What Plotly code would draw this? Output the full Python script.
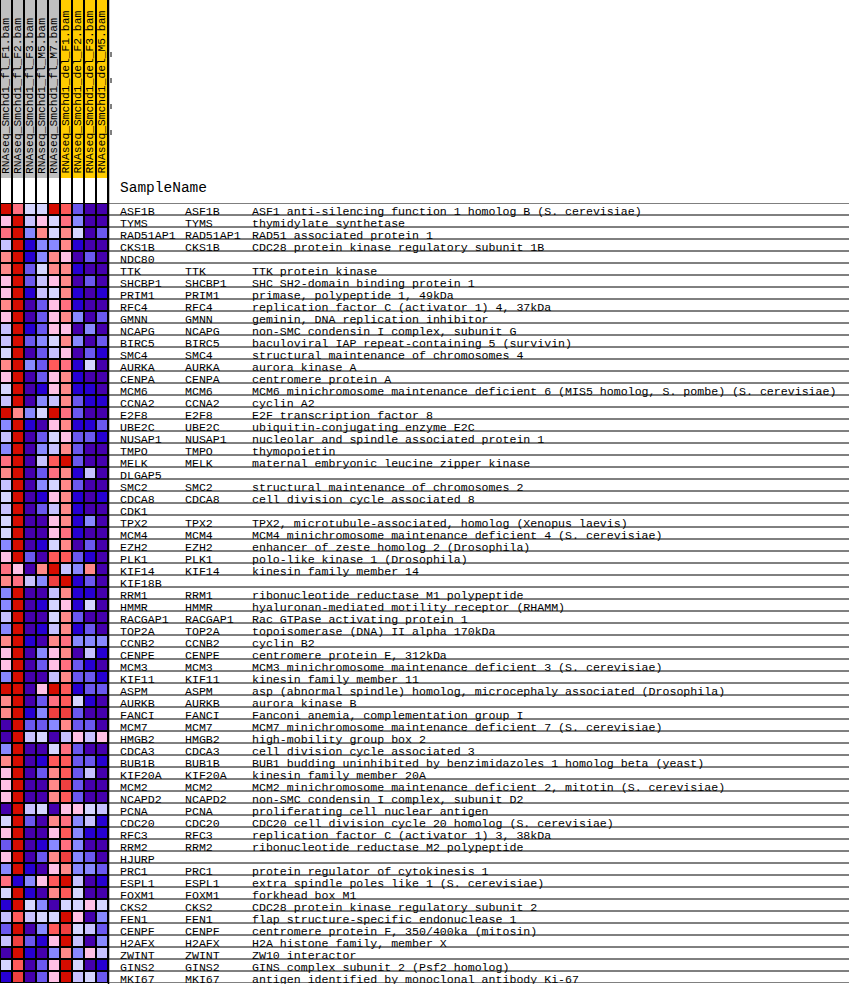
import plotly.graph_objects as go

W, H = 849, 984

samples = ["RNAseq_Smchd1_fl_F1.bam", "RNAseq_Smchd1_fl_F2.bam", "RNAseq_Smchd1_fl_F3.bam",
           "RNAseq_Smchd1_fl_M5.bam", "RNAseq_Smchd1_fl_M7.bam", "RNAseq_Smchd1_del_F1.bam",
           "RNAseq_Smchd1_del_F2.bam", "RNAseq_Smchd1_del_F3.bam", "RNAseq_Smchd1_del_M5.bam"]
sample_group = [0, 0, 0, 0, 0, 1, 1, 1, 1]
group_colors = ["#C0C0C0", "#FFCC00", "#FFFFFF"]

genes = ["ASF1B", "TYMS", "RAD51AP1", "CKS1B", "NDC80", "TTK", "SHCBP1", "PRIM1", "RFC4", "GMNN",
         "NCAPG", "BIRC5", "SMC4", "AURKA", "CENPA", "MCM6", "CCNA2", "E2F8", "UBE2C", "NUSAP1",
         "TMPO", "MELK", "DLGAP5", "SMC2", "CDCA8", "CDK1", "TPX2", "MCM4", "EZH2", "PLK1",
         "KIF14", "KIF18B", "RRM1", "HMMR", "RACGAP1", "TOP2A", "CCNB2", "CENPE", "MCM3", "KIF11",
         "ASPM", "AURKB", "FANCI", "MCM7", "HMGB2", "CDCA3", "BUB1B", "KIF20A", "MCM2", "NCAPD2",
         "PCNA", "CDC20", "RFC3", "RRM2", "HJURP", "PRC1", "ESPL1", "FOXM1", "CKS2", "FEN1",
         "CENPF", "H2AFX", "ZWINT", "GINS2", "MKI67"]

symbols = [g if g not in ("NDC80", "DLGAP5", "CDK1", "KIF18B", "HJURP") else "" for g in genes]

descriptions = [
    "ASF1 anti-silencing function 1 homolog B (S. cerevisiae)",
    "thymidylate synthetase",
    "RAD51 associated protein 1",
    "CDC28 protein kinase regulatory subunit 1B",
    "",
    "TTK protein kinase",
    "SHC SH2-domain binding protein 1",
    "primase, polypeptide 1, 49kDa",
    "replication factor C (activator 1) 4, 37kDa",
    "geminin, DNA replication inhibitor",
    "non-SMC condensin I complex, subunit G",
    "baculoviral IAP repeat-containing 5 (survivin)",
    "structural maintenance of chromosomes 4",
    "aurora kinase A",
    "centromere protein A",
    "MCM6 minichromosome maintenance deficient 6 (MIS5 homolog, S. pombe) (S. cerevisiae)",
    "cyclin A2",
    "E2F transcription factor 8",
    "ubiquitin-conjugating enzyme E2C",
    "nucleolar and spindle associated protein 1",
    "thymopoietin",
    "maternal embryonic leucine zipper kinase",
    "",
    "structural maintenance of chromosomes 2",
    "cell division cycle associated 8",
    "",
    "TPX2, microtubule-associated, homolog (Xenopus laevis)",
    "MCM4 minichromosome maintenance deficient 4 (S. cerevisiae)",
    "enhancer of zeste homolog 2 (Drosophila)",
    "polo-like kinase 1 (Drosophila)",
    "kinesin family member 14",
    "",
    "ribonucleotide reductase M1 polypeptide",
    "hyaluronan-mediated motility receptor (RHAMM)",
    "Rac GTPase activating protein 1",
    "topoisomerase (DNA) II alpha 170kDa",
    "cyclin B2",
    "centromere protein E, 312kDa",
    "MCM3 minichromosome maintenance deficient 3 (S. cerevisiae)",
    "kinesin family member 11",
    "asp (abnormal spindle) homolog, microcephaly associated (Drosophila)",
    "aurora kinase B",
    "Fanconi anemia, complementation group I",
    "MCM7 minichromosome maintenance deficient 7 (S. cerevisiae)",
    "high-mobility group box 2",
    "cell division cycle associated 3",
    "BUB1 budding uninhibited by benzimidazoles 1 homolog beta (yeast)",
    "kinesin family member 20A",
    "MCM2 minichromosome maintenance deficient 2, mitotin (S. cerevisiae)",
    "non-SMC condensin I complex, subunit D2",
    "proliferating cell nuclear antigen",
    "CDC20 cell division cycle 20 homolog (S. cerevisiae)",
    "replication factor C (activator 1) 3, 38kDa",
    "ribonucleotide reductase M2 polypeptide",
    "",
    "protein regulator of cytokinesis 1",
    "extra spindle poles like 1 (S. cerevisiae)",
    "forkhead box M1",
    "CDC28 protein kinase regulatory subunit 2",
    "flap structure-specific endonuclease 1",
    "centromere protein F, 350/400ka (mitosin)",
    "H2A histone family, member X",
    "ZW10 interactor",
    "GINS complex subunit 2 (Psf2 homolog)",
    "antigen identified by monoclonal antibody Ki-67",
]

# expression level (0 = lowest / dark blue ... 11 = highest / red)
levels = [
    [11, 8, 5, 5, 11, 9, 2, 0, 0],
    [6, 11, 4, 6, 5, 8, 3, 0, 0],
    [8, 11, 3, 7, 5, 7, 5, 0, 2],
    [4, 11, 1, 3, 3, 7, 1, 0, 0],
    [7, 11, 1, 3, 7, 6, 0, 2, 0],
    [7, 11, 2, 5, 7, 7, 1, 0, 0],
    [6, 11, 2, 4, 6, 7, 0, 2, 0],
    [6, 11, 1, 4, 5, 7, 1, 0, 1],
    [7, 11, 0, 2, 6, 8, 1, 0, 0],
    [6, 11, 0, 2, 6, 7, 3, 0, 2],
    [4, 11, 1, 2, 6, 6, 0, 3, 0],
    [4, 11, 2, 3, 5, 7, 3, 0, 2],
    [5, 11, 0, 2, 4, 6, 0, 2, 1],
    [7, 11, 3, 2, 9, 8, 1, 5, 0],
    [6, 11, 0, 2, 6, 7, 1, 0, 0],
    [5, 11, 0, 1, 6, 7, 1, 1, 0],
    [4, 11, 0, 3, 4, 7, 2, 1, 1],
    [11, 7, 3, 5, 11, 8, 2, 0, 0],
    [3, 11, 1, 0, 6, 7, 1, 1, 2],
    [4, 11, 0, 2, 5, 6, 2, 2, 1],
    [3, 11, 0, 3, 4, 7, 2, 0, 0],
    [8, 11, 0, 4, 9, 11, 2, 0, 0],
    [7, 11, 0, 2, 8, 7, 1, 4, 0],
    [4, 11, 0, 3, 5, 7, 2, 0, 0],
    [5, 11, 0, 1, 6, 7, 1, 0, 1],
    [4, 11, 0, 2, 4, 7, 1, 0, 0],
    [5, 11, 0, 0, 6, 7, 1, 3, 0],
    [5, 11, 0, 0, 6, 8, 1, 0, 0],
    [3, 11, 0, 1, 5, 7, 0, 2, 0],
    [6, 11, 2, 0, 9, 9, 2, 1, 0],
    [8, 6, 0, 7, 11, 4, 3, 7, 0],
    [7, 8, 4, 3, 10, 11, 1, 2, 0],
    [3, 11, 0, 0, 4, 7, 1, 1, 0],
    [3, 11, 0, 1, 5, 6, 1, 5, 0],
    [4, 11, 0, 0, 5, 7, 2, 0, 0],
    [3, 11, 0, 1, 4, 7, 1, 2, 0],
    [7, 11, 1, 0, 7, 8, 3, 3, 3],
    [6, 11, 0, 3, 6, 7, 0, 4, 1],
    [6, 11, 0, 2, 6, 8, 2, 1, 0],
    [3, 11, 0, 0, 4, 7, 2, 2, 1],
    [11, 11, 0, 6, 11, 9, 1, 2, 2],
    [7, 11, 0, 2, 8, 9, 5, 1, 0],
    [7, 11, 1, 3, 10, 10, 2, 0, 0],
    [0, 11, 2, 2, 3, 7, 2, 2, 0],
    [0, 11, 4, 5, 0, 4, 6, 4, 6],
    [3, 11, 0, 0, 5, 8, 2, 0, 0],
    [7, 11, 0, 1, 9, 9, 2, 2, 1],
    [6, 11, 0, 2, 7, 9, 2, 4, 0],
    [6, 11, 0, 0, 7, 10, 2, 0, 0],
    [6, 11, 0, 0, 7, 9, 2, 0, 0],
    [0, 11, 4, 5, 0, 6, 6, 5, 4],
    [5, 11, 2, 0, 7, 8, 3, 4, 1],
    [6, 11, 0, 0, 6, 9, 3, 1, 1],
    [2, 11, 0, 1, 3, 8, 3, 0, 0],
    [6, 11, 0, 2, 7, 10, 3, 2, 0],
    [3, 11, 1, 0, 6, 7, 3, 3, 2],
    [8, 1, 3, 6, 9, 11, 4, 0, 1],
    [5, 11, 1, 0, 7, 9, 5, 0, 0],
    [1, 11, 5, 3, 0, 5, 5, 6, 5],
    [4, 9, 4, 5, 5, 11, 6, 0, 3],
    [2, 11, 0, 3, 9, 10, 5, 4, 2],
    [4, 10, 2, 1, 6, 11, 4, 0, 3],
    [0, 11, 1, 0, 3, 7, 3, 6, 4],
    [5, 9, 0, 2, 6, 11, 5, 0, 1],
    [1, 10, 0, 2, 6, 11, 4, 5, 2],
]

palette = ["#4500AD", "#2700D1", "#6B58EF", "#8888FF", "#C7C1FF", "#D5D5FF",
           "#FFC0E5", "#FF8989", "#FF7080", "#FF5A5A", "#EF4040", "#D60C00"]

# ---------------- layout geometry (pixels) ----------------
cell_w, row_h = 12, 12
hm_right = cell_w * len(samples)          # 108
top_rows = 203
header_color_bottom = 178
n = len(genes)
col_sym1, col_sym2, col_desc = 118, 183, 250
FONT = "Liberation Mono"
FS = 11.6


def px_x(p):
    return p / W


def px_y(p):
    return 1 - p / H


def discrete_scale(cols):
    k = len(cols)
    sc = []
    for i, c in enumerate(cols):
        sc.append([i / k, c])
        sc.append([(i + 1) / k, c])
    return sc


fig = go.Figure()

# main heatmap
fig.add_trace(go.Heatmap(
    z=levels, x=list(range(len(samples))), y=list(range(n)),
    colorscale=discrete_scale(palette), zmin=-0.5, zmax=len(palette) - 0.5,
    showscale=False, xgap=2, ygap=2, hoverinfo="skip",
    xaxis="x", yaxis="y"))

# header heatmap (group colour band + white band)
fig.add_trace(go.Heatmap(
    z=[sample_group, [2] * len(samples)],
    x=list(range(len(samples))), y=[0, header_color_bottom, top_rows],
    colorscale=discrete_scale(group_colors), zmin=-0.5, zmax=2.5,
    showscale=False, xgap=2, ygap=0, hoverinfo="skip",
    xaxis="x", yaxis="y3"))

shapes = []
# black backgrounds behind cells
shapes.append(dict(type="rect", xref="x", yref="y", x0=-0.5, x1=len(samples) - 0.5,
                   y0=-0.5, y1=n - 0.5, fillcolor="black", line_width=0, layer="below"))
shapes.append(dict(type="rect", xref="x", yref="y3", x0=-0.5, x1=len(samples) - 0.5,
                   y0=0, y1=top_rows, fillcolor="black", line_width=0, layer="below"))
# right border of the heatmap column block
shapes.append(dict(type="line", xref="paper", yref="paper", x0=px_x(hm_right + 0.5), x1=px_x(hm_right + 0.5),
                   y0=0, y1=1, line=dict(color="black", width=1.5)))
# dashed artefact in header
shapes.append(dict(type="line", xref="paper", yref="paper", x0=px_x(111), x1=px_x(111),
                   y0=px_y(52), y1=px_y(137), line=dict(color="black", width=1, dash="5px,21px")))
# table row lines
for i in range(n + 1):
    shapes.append(dict(type="line", xref="paper", yref="y", x0=px_x(hm_right), x1=1,
                       y0=i - 0.5, y1=i - 0.5, line=dict(color="black", width=1)))

annotations = []
for j, s in enumerate(samples):
    annotations.append(dict(text=s, x=j, xref="x", y=px_y(176), yref="paper",
                            textangle=-90, xanchor="center", yanchor="bottom", showarrow=False,
                            font=dict(family=FONT, size=11.3, color="black")))
annotations.append(dict(text="SampleName", x=px_x(col_sym1), xref="paper", y=px_y(187.5), yref="paper",
                        xanchor="left", yanchor="middle", showarrow=False,
                        font=dict(family=FONT, size=14.5, color="black")))
for i in range(n):
    for xpos, txt in ((col_sym1, genes[i]), (col_sym2, symbols[i]), (col_desc, descriptions[i])):
        if not txt:
            continue
        annotations.append(dict(text=txt, x=px_x(xpos), xref="paper", y=i, yref="y",
                                xanchor="left", yanchor="middle", yshift=-2, showarrow=False,
                                font=dict(family=FONT, size=FS, color="black")))

fig.update_layout(
    width=W, height=H, margin=dict(l=0, r=0, t=0, b=0),
    paper_bgcolor="white", plot_bgcolor="white", showlegend=False,
    xaxis=dict(domain=[0, px_x(hm_right)], range=[-0.5, len(samples) - 0.5], visible=False, fixedrange=True),
    yaxis=dict(domain=[px_y(top_rows + row_h * n), px_y(top_rows)], range=[n - 0.5, -0.5],
               visible=False, fixedrange=True),
    yaxis3=dict(domain=[px_y(top_rows), 1], range=[top_rows, 0], visible=False, fixedrange=True,
                anchor="x"),
    shapes=shapes, annotations=annotations,
)

fig.write_html("out.html", config={"displayModeBar": False},
               post_script="document.body.style.margin='0';document.body.style.overflow='hidden';")
